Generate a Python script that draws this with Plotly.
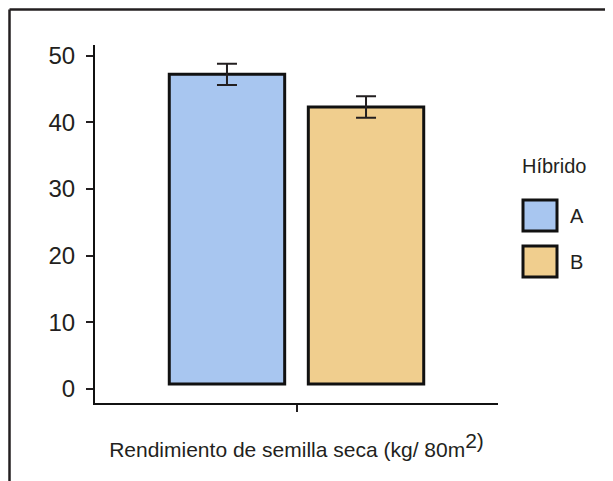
import plotly.graph_objects as go

# ---- data ----
hibridos = ["A", "B"]
rendimiento = [47.2, 42.3]          # mean dry seed yield (kg / 80 m2)
error = [1.6, 1.6]                  # error bar half-length
colores = ["#A8C6F0", "#F0CE8E"]
categoria = ["Rendimiento"]
y_ticks = [0, 10, 20, 30, 40, 50]

BAR_BASE = 0.75
DARK = "#231f20"
FONT = "Liberation Sans, Arial, Helvetica, sans-serif"

W, H = 613, 481
OFF = 8  # page body margin offset
L, R, T, B = 95 - OFF, 115 + OFF, 45 - OFF, 78 + OFF
PW, PH = W - L - R, H - T - B


def px(x):  # screen x -> paper
    return (x - OFF - L) / PW


def py(y):  # screen y -> paper
    return (H - B - (y - OFF)) / PH


fig = go.Figure()
for name, val, err, col in zip(hibridos, rendimiento, error, colores):
    fig.add_trace(go.Bar(
        x=categoria, y=[val - BAR_BASE], base=[BAR_BASE], name=name,
        marker=dict(color=col, line=dict(color="#111111", width=3)),
        error_y=dict(type="data", array=[err], color=DARK, thickness=2, width=10),
        showlegend=False,
    ))

shapes = [
    dict(type="line", xref="paper", yref="paper", x0=px(9.5), x1=px(9.5), y0=py(490), y1=py(9.5),
         line=dict(color=DARK, width=2.5)),
    dict(type="line", xref="paper", yref="paper", x0=px(9.5), x1=px(620), y0=py(9.5), y1=py(9.5),
         line=dict(color=DARK, width=2.5)),
]
annotations = [
    dict(text="Híbrido", xref="paper", yref="paper", x=px(520), y=py(165.5), xanchor="left",
         yanchor="middle", showarrow=False, font=dict(size=20, color=DARK, family=FONT)),
]
leg_y = [(200, 231), (246, 277)]
for (y0, y1), name, col in zip(leg_y, hibridos, colores):
    shapes.append(dict(type="rect", xref="paper", yref="paper", x0=px(523), x1=px(557),
                       y0=py(y1), y1=py(y0), fillcolor=col, line=dict(color="#111111", width=3)))
    annotations.append(dict(text=name, xref="paper", yref="paper", x=px(568), y=py((y0 + y1) / 2),
                            xanchor="left", yanchor="middle", showarrow=False,
                            font=dict(size=20, color=DARK, family=FONT)))

fig.update_layout(
    width=W, height=H,
    margin=dict(l=L, r=R, t=T, b=B, pad=0),
    paper_bgcolor="white", plot_bgcolor="white",
    barmode="group", bargap=0.31, bargroupgap=0.17,
    font=dict(family=FONT, color=DARK),
    shapes=shapes, annotations=annotations,
    xaxis=dict(showline=True, linecolor="#111111", linewidth=2, ticks="outside", ticklen=7,
               tickwidth=1.5, tickcolor=DARK, showticklabels=False, showgrid=False, zeroline=False,
               title=dict(text="Rendimiento de semilla seca (kg/ 80m<sup><span style=\"font-size:21px\">2)</span></sup>",
                          standoff=31, font=dict(size=21, color=DARK))),
    yaxis=dict(range=[-2.1, 51.6], tickvals=y_ticks, showline=True, linecolor="#111111", linewidth=2,
               ticks="outside", ticklen=7, tickwidth=1.5, tickcolor=DARK, showgrid=False,
               zeroline=False, ticklabelstandoff=6, tickfont=dict(size=24, color=DARK)),
)

fig.write_html("out.html")
